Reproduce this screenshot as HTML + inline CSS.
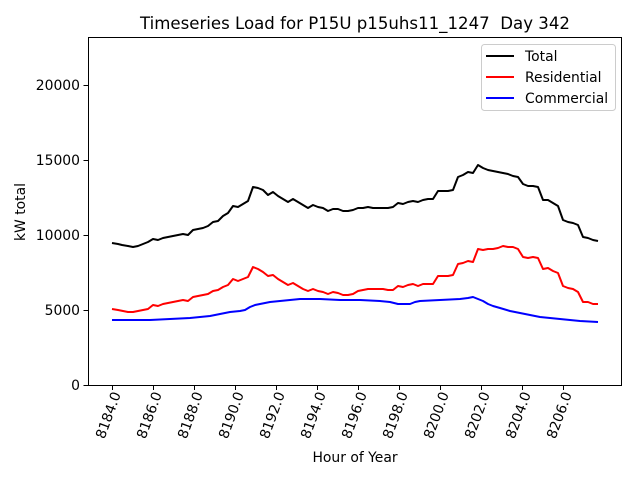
<!DOCTYPE html>
<html><head><meta charset="utf-8"><style>
html,body{margin:0;padding:0;background:#fff;}
svg{display:block;font-family:"DejaVu Sans","Liberation Sans",sans-serif;}
</style></head><body>
<svg width="640" height="480" viewBox="0 0 640 480" xmlns="http://www.w3.org/2000/svg">
<rect width="640" height="480" fill="#fff"/>
<text x="355" y="29" font-size="16.6" text-anchor="middle" fill="#000">Timeseries Load for P15U p15uhs11_1247&#160; Day 342</text>
<g stroke="#000" stroke-width="1">
<line x1="88.5" y1="385.5" x2="83.5" y2="385.5"/>
<line x1="88.5" y1="310.5" x2="83.5" y2="310.5"/>
<line x1="88.5" y1="235.5" x2="83.5" y2="235.5"/>
<line x1="88.5" y1="160.5" x2="83.5" y2="160.5"/>
<line x1="88.5" y1="85.5" x2="83.5" y2="85.5"/>
</g>
<g font-size="13.9" text-anchor="end" fill="#000">
<text x="80" y="390">0</text>
<text x="80" y="315">5000</text>
<text x="80" y="240">10000</text>
<text x="80" y="165">15000</text>
<text x="80" y="90">20000</text>
</g>
<text transform="translate(25,212) rotate(-90)" font-size="13.9" text-anchor="middle">kW total</text>
<text x="355" y="462" font-size="13.9" text-anchor="middle">Hour of Year</text>
<g stroke="#000" stroke-width="1">
<line x1="112.5" y1="385" x2="112.5" y2="390"/>
<line x1="153.5" y1="385" x2="153.5" y2="390"/>
<line x1="194.5" y1="385" x2="194.5" y2="390"/>
<line x1="235.5" y1="385" x2="235.5" y2="390"/>
<line x1="276.5" y1="385" x2="276.5" y2="390"/>
<line x1="317.5" y1="385" x2="317.5" y2="390"/>
<line x1="358.5" y1="385" x2="358.5" y2="390"/>
<line x1="399.5" y1="385" x2="399.5" y2="390"/>
<line x1="440.5" y1="385" x2="440.5" y2="390"/>
<line x1="481.5" y1="385" x2="481.5" y2="390"/>
<line x1="522.5" y1="385" x2="522.5" y2="390"/>
<line x1="563.5" y1="385" x2="563.5" y2="390"/>
</g>
<g font-size="13.9" text-anchor="end" fill="#000">
<text transform="translate(121,394) rotate(-70)">8184.0</text>
<text transform="translate(162,394) rotate(-70)">8186.0</text>
<text transform="translate(203,394) rotate(-70)">8188.0</text>
<text transform="translate(244,394) rotate(-70)">8190.0</text>
<text transform="translate(285,394) rotate(-70)">8192.0</text>
<text transform="translate(326,394) rotate(-70)">8194.0</text>
<text transform="translate(367,394) rotate(-70)">8196.0</text>
<text transform="translate(408,394) rotate(-70)">8198.0</text>
<text transform="translate(449,394) rotate(-70)">8200.0</text>
<text transform="translate(490,394) rotate(-70)">8202.0</text>
<text transform="translate(531,394) rotate(-70)">8204.0</text>
<text transform="translate(572,394) rotate(-70)">8206.0</text>
</g>
<g fill="none" stroke-width="2" stroke-linejoin="round">
<polyline stroke="#000" points="112,243 118,244 122,245 128,246 133,247 138,246 143,244 148,242 153,239 158,240 163,238 168,237 173,236 178,235 183,234 188,235 193,230 198,229 203,228 208,226 213,222 218,221 223,216 228,213 233,206 238,207 243,204 248,201 253,187 258,188 263,190 268,195 273,192 278,196 283,199 288,202 293,199 298,202 303,205 308,208 313,205 318,207 323,208 328,211 333,209 338,209 343,211 348,211 353,210 358,208 363,208 368,207 373,208 378,208 383,208 388,208 393,207 398,203 403,204 408,202 413,201 418,202 423,200 428,199 433,199 438,191 443,191 448,191 453,190 458,177 463,175 468,172 473,173 478,165 483,168 488,170 493,171 498,172 503,173 508,174 513,176 518,177 523,184 528,186 533,186 538,187 543,200 548,200 553,203 558,206 563,220 568,222 573,223 578,225 583,237 588,238 593,240 598,241"/>
<polyline stroke="#f00" points="112,309 118,310 123,311 128,312 133,312 138,311 143,310 148,309 153,305 158,306 163,304 168,303 173,302 178,301 183,300 188,301 193,297 198,296 203,295 208,294 213,291 218,290 223,287 228,285 233,279 238,281 243,279 248,277 253,267 258,269 263,272 268,276 273,275 278,279 283,282 288,285 293,283 298,286 303,289 308,291 313,289 318,291 323,292 328,294 333,292 338,293 343,295 348,295 353,294 358,291 363,290 368,289 373,289 378,289 383,289 388,290 393,290 398,286 403,287 408,285 413,284 418,286 423,284 428,284 433,284 438,276 443,276 448,276 453,275 458,264 463,263 468,261 473,262 478,249 483,250 488,249 493,249 498,248 503,246 508,247 513,247 518,249 523,257 528,258 533,257 538,258 543,269 548,268 553,271 558,273 563,286 568,288 573,289 578,292 583,302 588,302 593,304 598,304"/>
<polyline stroke="#00f" points="112,320 130,320 150,320 170,319 190,318 200,317 210,316 220,314 230,312 240,311 245,310 250,307 255,305 260,304 270,302 280,301 290,300 300,299 320,299 340,300 360,300 380,301 390,302 398,304 405,304 410,304 415,302 420,301 440,300 460,299 468,298 473,297 478,299 483,301 488,304 493,306 500,308 510,311 520,313 530,315 540,317 550,318 560,319 570,320 580,321 598,322"/>
</g>
<rect x="88.5" y="37.5" width="533" height="348" fill="none" stroke="#000" stroke-width="1"/>
<rect x="481.5" y="44.5" width="134" height="66" rx="3" fill="#fff" fill-opacity="0.8" stroke="#ccc" stroke-width="1"/>
<line x1="486" y1="56" x2="514" y2="56" stroke="#000" stroke-width="2"/>
<line x1="486" y1="77" x2="514" y2="77" stroke="#f00" stroke-width="2"/>
<line x1="486" y1="98" x2="514" y2="98" stroke="#00f" stroke-width="2"/>
<g font-size="13.9" fill="#000">
<text x="525" y="61">Total</text>
<text x="525" y="82">Residential</text>
<text x="525" y="103">Commercial</text>
</g>
</svg>
</body></html>
